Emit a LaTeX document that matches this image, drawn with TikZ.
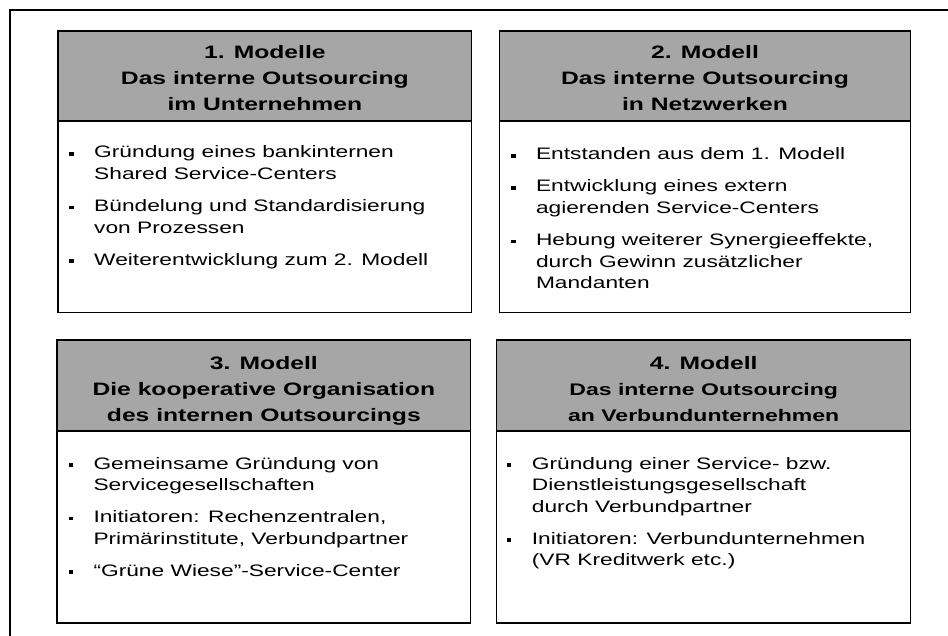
\documentclass[tikz,border=0pt]{standalone}
\usepackage{fontspec}
\setmainfont{Liberation Sans}[FakeStretch=1.37, BoldFeatures={FakeStretch=1.37}]
\usetikzlibrary{positioning}
\definecolor{kopfgrau}{RGB}{166,166,166}
\newcommand{\titelzeilen}[1]{\begin{tabular}[t]{@{}c@{}}#1\end{tabular}}
\newcommand{\punktliste}[1]{\begin{tabular}[t]{@{}l@{\hspace{20.5pt}}l@{}}#1\end{tabular}}
\newcommand{\pkt}{\rule[2.3pt]{4.5pt}{3.6pt}}
\newcommand{\kleiner}{\fontsize{16.8}{26}\selectfont}

\begin{document}
\begin{tikzpicture}[x=1pt,y=-1pt,
  kopf/.style={draw=black, line width=1.2pt, fill=kopfgrau, anchor=north west, inner sep=0pt, outer sep=0pt},
  feld/.style={draw=black, line width=1.2pt, fill=white, inner sep=0pt, outer sep=0pt},
  titel/.style={anchor=base, inner sep=0pt, font=\bfseries\fontsize{18}{26}\selectfont},
  liste/.style={anchor=base west, inner sep=0pt, font=\fontsize{16.6}{21.6}\selectfont}]
\useasboundingbox (0,0) rectangle (948,636);
\draw[line width=2pt] (948,10) -- (10,10) -- (10,636); %< -- frame runs off the right and bottom edge

% 1. Modell
\node[kopf, minimum width=413.7pt, minimum height=90pt] (kopf1) at (58,31) {};
\node[feld, minimum width=413.7pt, minimum height=191.5pt, below=0pt of kopf1] (feld1) {};
\node[titel] (titel1) at ([shift={(0,28)}]kopf1.north) {\titelzeilen{1. Modelle\\Das interne Outsourcing\\im Unternehmen}};
\node[liste] (liste1) at ([shift={(11,37)}]feld1.north west) {\punktliste{%
  \pkt & Gründung eines bankinternen\\
       & Shared Service-Centers\\[10.4pt]
  \pkt & Bündelung und Standardisierung\\
       & von Prozessen\\[10.4pt]
  \pkt & Weiterentwicklung zum 2. Modell}};

% 2. Modell
\node[kopf, minimum width=411.4pt, minimum height=90pt] (kopf2) at (499.3,31) {};
\node[feld, minimum width=411.4pt, minimum height=191.5pt, below=0pt of kopf2] (feld2) {};
\node[titel] (titel2) at ([shift={(0,28)}]kopf2.north) {\titelzeilen{2. Modell\\Das interne Outsourcing\\in Netzwerken}};
\node[liste] (liste2) at ([shift={(11.5,39)}]feld2.north west) {\punktliste{%
  \pkt & Entstanden aus dem 1. Modell\\[10.4pt]
  \pkt & Entwicklung eines extern\\
       & agierenden Service-Centers\\[10.4pt]
  \pkt & Hebung weiterer Synergieeffekte,\\
       & durch Gewinn zusätzlicher\\
       & Mandanten}};

% 3. Modell
\node[kopf, minimum width=413.7pt, minimum height=91pt] (kopf3) at (57,340) {};
\node[feld, minimum width=413.7pt, minimum height=192pt, below=0pt of kopf3] (feld3) {};
\node[titel] (titel3) at ([shift={(0,29.5)}]kopf3.north) {\titelzeilen{3. Modell\\Die kooperative Organisation\\des internen Outsourcings}};
\node[liste] (liste3) at ([shift={(11.3,38)}]feld3.north west) {\punktliste{%
  \pkt & Gemeinsame Gründung von\\
       & Servicegesellschaften\\[10.4pt]
  \pkt & Initiatoren: Rechenzentralen,\\
       & Primärinstitute, Verbundpartner\\[10.4pt]
  \pkt & “Grüne Wiese”-Service-Center}};

% 4. Modell
\node[kopf, minimum width=414pt, minimum height=91pt] (kopf4) at (496.7,340) {};
\node[feld, minimum width=414pt, minimum height=192pt, below=0pt of kopf4] (feld4) {};
\node[titel] (titel4) at ([shift={(0,29.5)}]kopf4.north) {\titelzeilen{4. Modell\\\kleiner Das interne Outsourcing\\\kleiner an Verbundunternehmen}};
\node[liste] (liste4) at ([shift={(10,38)}]feld4.north west) {\punktliste{%
  \pkt & Gründung einer Service- bzw.\\
       & Dienstleistungsgesellschaft\\
       & durch Verbundpartner\\[10.4pt]
  \pkt & Initiatoren: Verbundunternehmen\\
       & (VR Kreditwerk etc.)}};
\end{tikzpicture}
\end{document}
